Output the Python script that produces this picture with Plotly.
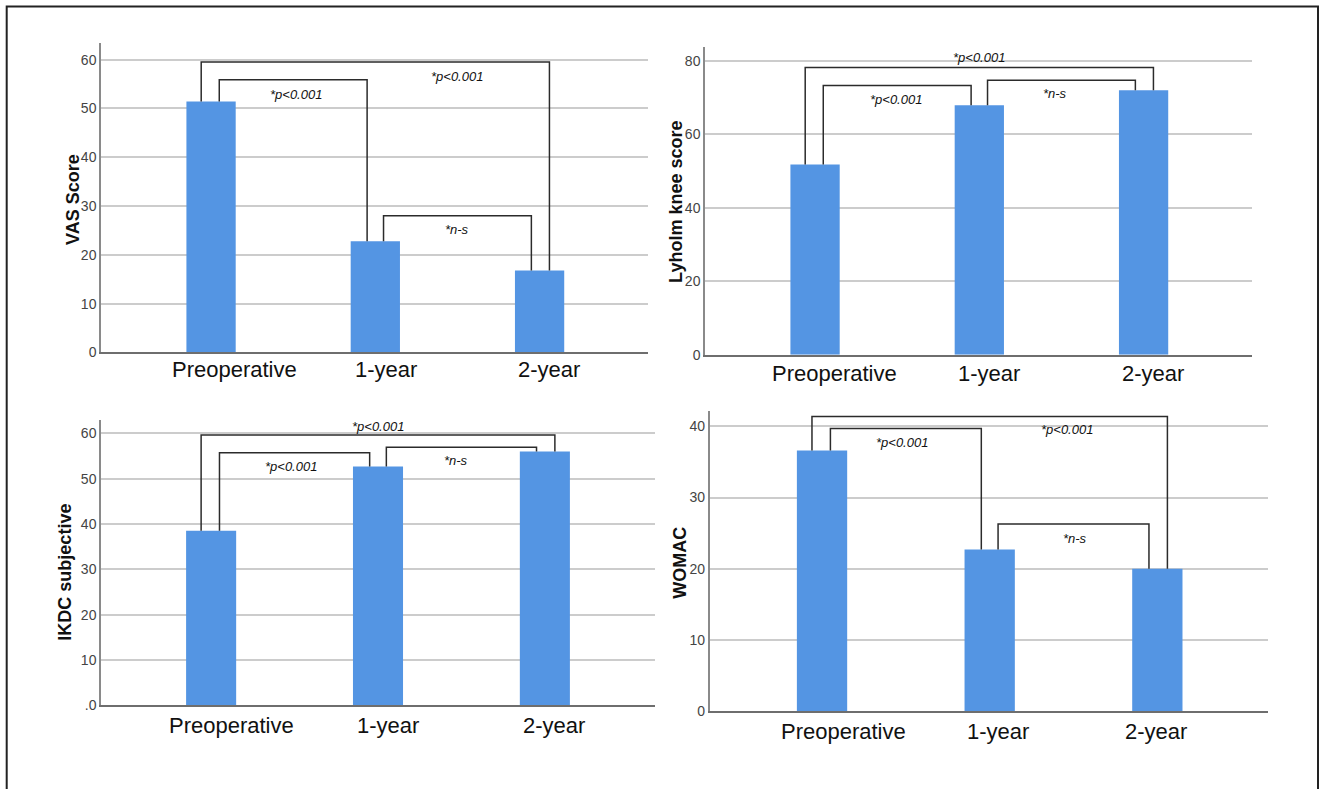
import plotly.graph_objects as go

W, H = 1319, 789

# ---------------- data ----------------
categories = ["Preoperative", "1-year", "2-year"]

vas_scores = [51.4, 22.8, 16.8]
lysholm_scores = [51.8, 67.9, 72.0]
ikdc_scores = [38.5, 52.7, 56.0]
womac_scores = [36.6, 22.7, 20.0]

y_titles = ["VAS Score", "Lyholm knee score", "IKDC subjective", "WOMAC"]

vas_tickvals = [0, 10, 20, 30, 40, 50, 60]
vas_ticktext = ["0", "10", "20", "30", "40", "50", "60"]
lysholm_tickvals = [0, 20, 40, 60, 80]
lysholm_ticktext = ["0", "20", "40", "60", "80"]
ikdc_tickvals = [0, 10, 20, 30, 40, 50, 60]
ikdc_ticktext = [".0", "10", "20", "30", "40", "50", "60"]
womac_tickvals = [0, 10, 20, 30, 40]
womac_ticktext = ["0", "10", "20", "30", "40"]

# comparisons: (from index, to index, bracket height, label)
vas_brackets = [(0, 2, 59.5, "*p<0.001"), (0, 1, 55.9, "*p<0.001"), (1, 2, 28.0, "*n-s")]
lysholm_brackets = [(0, 2, 78.2, "*p<0.001"), (0, 1, 73.3, "*p<0.001"), (1, 2, 74.7, "*n-s")]
ikdc_brackets = [(0, 2, 59.6, "*p<0.001"), (0, 1, 55.7, "*p<0.001"), (1, 2, 56.9, "*n-s")]
womac_brackets = [(0, 2, 41.4, "*p<0.001"), (0, 1, 39.7, "*p<0.001"), (1, 2, 26.3, "*n-s")]

# ---------------- layout / style ----------------
BAR_COLOR = "#5495e3"
BRACKET_COLOR = "#2b2b2b"
GRID_COLOR = "#cccccc"

panels = [
    dict(values=vas_scores, tv=vas_tickvals, tt=vas_ticktext, brackets=vas_brackets,
         box=(101, 43, 648, 356), yr=63.5, xr=(-0.67, 2.66),
         text_pos=[(1.50, 56.6), (0.52, 52.8), (1.50, 25.2)],
         title_pos=(73, 202),
         cat_dx=[0.144, 0.064, 0.058], cat_y=373),
    dict(values=lysholm_scores, tv=lysholm_tickvals, tt=lysholm_ticktext, brackets=lysholm_brackets,
         box=(705, 47, 1252, 358.3), yr=83.9, xr=(-0.67, 2.66),
         text_pos=[(1.0, 81.0), (0.49, 69.6), (1.46, 71.1)],
         title_pos=(676, 204),
         cat_dx=[0.12, 0.06, 0.055], cat_y=377),
    dict(values=ikdc_scores, tv=ikdc_tickvals, tt=ikdc_ticktext, brackets=ikdc_brackets,
         box=(101, 424, 655, 712.7), yr=63.0, xr=(-0.66, 2.66),
         text_pos=[(1.0, 61.6), (0.48, 52.6), (1.47, 54.1)],
         title_pos=(65.5, 578),
         cat_dx=[0.12, 0.06, 0.055], cat_y=733),
    dict(values=womac_scores, tv=womac_tickvals, tt=womac_ticktext, brackets=womac_brackets,
         box=(709.7, 415.7, 1268, 718.3), yr=42.1, xr=(-0.67, 2.66),
         text_pos=[(1.46, 39.5), (0.475, 37.8), (1.51, 24.2)],
         title_pos=(680.5, 569),
         cat_dx=[0.13, 0.05, -0.01], cat_y=739),
]


def px(x):
    return x / W


def py(y):
    return 1 - y / H


fig = go.Figure()
annotations = []
x_pos = list(range(len(categories)))

for k, p in enumerate(panels):
    n = "" if k == 0 else str(k + 1)
    xa, ya = "x" + n, "y" + n
    x0, y0, x1, y1 = p["box"]
    vals = p["values"]

    fig.add_trace(go.Bar(
        x=x_pos, y=vals, width=0.3, marker=dict(color=BAR_COLOR, line=dict(width=0)),
        xaxis=xa, yaxis=ya, showlegend=False, hoverinfo="skip"))

    for (i, j, h, lab), (tx, ty) in zip(p["brackets"], p["text_pos"]):
        if j - i == 2:
            dxi, dxj = -0.06, 0.06
        else:
            dxi, dxj = 0.05, -0.05
        xs = [i + dxi, i + dxi, j + dxj, j + dxj]
        ys = [vals[i], h, h, vals[j]]
        fig.add_trace(go.Scatter(
            x=xs, y=ys, mode="lines", line=dict(color=BRACKET_COLOR, width=1.5),
            xaxis=xa, yaxis=ya, showlegend=False, hoverinfo="skip"))
        annotations.append(dict(
            x=tx, y=ty, xref=xa, yref=ya, text=lab, showarrow=False,
            font=dict(family="Liberation Sans, Arial", size=13, color="#111111", style="italic")))

    for c, cat in enumerate(categories):
        annotations.append(dict(
            x=c + p["cat_dx"][c], y=py(p["cat_y"]), xref=xa, yref="paper", text=cat,
            showarrow=False, xanchor="center", yanchor="middle",
            font=dict(family="Liberation Sans, Arial", size=22, color="#111111")))

    tx_, ty_ = p["title_pos"]
    annotations.append(dict(
        x=px(tx_), y=py(ty_), xref="paper", yref="paper", text="<b>%s</b>" % y_titles[k],
        textangle=-90, showarrow=False, xanchor="center", yanchor="middle",
        font=dict(family="Liberation Sans, Arial", size=18, color="#111111")))

    fig.layout["xaxis" + n] = dict(
        domain=[px(x0), px(x1)], anchor=ya, range=list(p["xr"]),
        showgrid=False, zeroline=False, showticklabels=False, ticks="",
        showline=True, linecolor="#6e6e6e", linewidth=2)
    fig.layout["yaxis" + n] = dict(
        domain=[py(y1), py(y0)], anchor=xa, range=[0, p["yr"]],
        tickvals=p["tv"], ticktext=p["tt"], ticks="", ticklen=0,
        showgrid=True, gridcolor=GRID_COLOR, gridwidth=1.5, zeroline=False,
        showline=True, linecolor="#8a8a8a", linewidth=1.5,
        tickfont=dict(family="Liberation Sans Narrow, Arial Narrow, Liberation Sans", size=14, color="#444444"))

fig.update_layout(
    width=W, height=H, margin=dict(l=0, r=0, t=0, b=0),
    paper_bgcolor="white", plot_bgcolor="white",
    annotations=annotations, showlegend=False,
    shapes=[dict(type="rect", xref="paper", yref="paper",
                 x0=px(6.7), x1=px(1318), y0=-0.05, y1=py(6.5),
                 line=dict(color="#222222", width=2), fillcolor="rgba(0,0,0,0)")],
)

fig.write_html("out.html", config={"displayModeBar": False},
               post_script="document.body.style.margin='0';document.body.style.overflow='hidden';")
